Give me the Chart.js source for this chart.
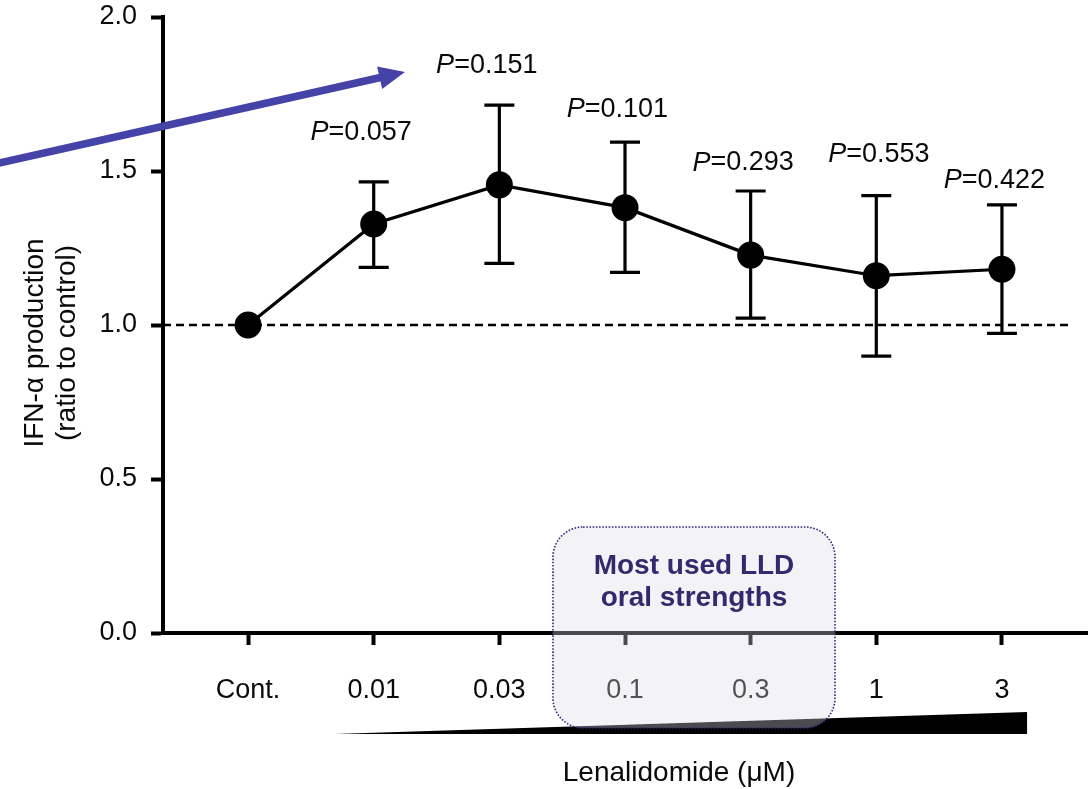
<!DOCTYPE html>
<html>
<head>
<meta charset="utf-8">
<script src="https://cdn.jsdelivr.net/npm/chart.js@4.4.1/dist/chart.umd.min.js"></script>
<style>
  html, body { margin: 0; padding: 0; background: #fff; }
  #wrap { width: 1088px; height: 789px; position: relative; }
</style>
</head>
<body>
<div id="wrap"><canvas id="c"></canvas></div>
<script>
// ---- data ----
const categories = ['Cont.', '0.01', '0.03', '0.1', '0.3', '1', '3'];
const means      = [1.00, 1.328, 1.455, 1.381, 1.227, 1.160, 1.181];
const errHigh    = [null, 1.465, 1.714, 1.594, 1.435, 1.420, 1.390];
const errLow     = [null, 1.187, 1.200, 1.171, 1.022, 0.899, 0.973];
const pValues    = [null, '0.057', '0.151', '0.101', '0.293', '0.553', '0.422'];
const yTicks     = [0, 0.5, 1.0, 1.5, 2.0];
const refValue   = 1.0;

// ---- annotation placement (config, in data units) ----
const pLabelY    = [null, 1.624, 1.844, 1.700, 1.526, 1.555, 1.469];
const pLabelDx   = [0, -0.10, -0.10, -0.06, -0.06, 0.02, -0.06];
const X_MIN = -0.677, X_MAX = 6.677, REF_END = 6.53;

const FONT = "'Liberation Sans', Arial, Helvetica, sans-serif";
const TXT = '#0a0a0a';

function zeroPad(scale) {
  scale.paddingTop = 0; scale.paddingBottom = 0;
  scale.paddingLeft = 0; scale.paddingRight = 0;
}

const annot = {
  id: 'annot',
  beforeDatasetsDraw(chart) {
    const {ctx, scales: {x, y}} = chart;
    ctx.save();
    ctx.strokeStyle = '#000';
    ctx.lineWidth = 3.2;
    for (let i = 0; i < categories.length; i++) {
      if (errHigh[i] == null) continue;
      const px = x.getPixelForValue(i);
      const yt = y.getPixelForValue(errHigh[i]);
      const yb = y.getPixelForValue(errLow[i]);
      ctx.beginPath();
      ctx.moveTo(px, yt); ctx.lineTo(px, yb);
      ctx.moveTo(px - 15, yt); ctx.lineTo(px + 15, yt);
      ctx.moveTo(px - 15, yb); ctx.lineTo(px + 15, yb);
      ctx.stroke();
    }
    ctx.restore();
  },
  afterDraw(chart) {
    const {ctx, scales: {x, y}} = chart;
    ctx.save();
    // P-value labels
    ctx.fillStyle = TXT;
    ctx.textBaseline = 'middle';
    for (let i = 0; i < categories.length; i++) {
      if (!pValues[i]) continue;
      const cx = x.getPixelForValue(i + pLabelDx[i]);
      const cy = y.getPixelForValue(pLabelY[i]);
      ctx.font = "italic 27px " + FONT;
      const wP = ctx.measureText('P').width;
      ctx.font = "27px " + FONT;
      const rest = '=' + pValues[i];
      const wR = ctx.measureText(rest).width;
      const x0 = cx - (wP + wR) / 2;
      ctx.textAlign = 'left';
      ctx.font = "italic 27px " + FONT;
      ctx.fillText('P', x0, cy);
      ctx.font = "27px " + FONT;
      ctx.fillText(rest, x0 + wP, cy);
    }
    // Y axis title
    ctx.save();
    ctx.translate(0, 343);
    ctx.rotate(-Math.PI / 2);
    ctx.font = "28px " + FONT;
    ctx.fillStyle = TXT;
    ctx.textAlign = 'center';
    ctx.textBaseline = 'alphabetic';
    ctx.fillText('IFN-\u03b1 production', 0, 42.5);
    ctx.fillText('(ratio to control)', 0, 75);
    ctx.restore();
    // X axis title
    ctx.font = "28px " + FONT;
    ctx.fillStyle = TXT;
    ctx.textAlign = 'center';
    ctx.textBaseline = 'middle';
    ctx.fillText('Lenalidomide (\u03bcM)', 679, 773);
    // Wedge (increasing concentration)
    const wx0 = x.getPixelForValue(0.69), wx1 = x.getPixelForValue(6.2);
    ctx.fillStyle = '#000';
    ctx.beginPath();
    ctx.moveTo(wx0, 734);
    ctx.lineTo(wx1, 712);
    ctx.lineTo(wx1, 734);
    ctx.closePath();
    ctx.fill();
    // Highlight box
    const bx = 553, by = 527, bw = 282, bh = 201, r = 30;
    ctx.beginPath();
    ctx.roundRect(bx, by, bw, bh, r);
    ctx.fillStyle = 'rgba(220,220,232,0.34)';
    ctx.fill();
    ctx.setLineDash([1.6, 1.6]);
    ctx.lineWidth = 1.6;
    ctx.strokeStyle = '#2d2a7c';
    ctx.stroke();
    ctx.setLineDash([]);
    ctx.font = "bold 28px " + FONT;
    ctx.fillStyle = '#35296d';
    ctx.textAlign = 'center';
    ctx.textBaseline = 'middle';
    ctx.fillText('Most used LLD', bx + bw / 2, 566);
    ctx.fillText('oral strengths', bx + bw / 2, 598);
    // Arrow
    const ax0 = -5, ay0 = 164, ax1 = 405, ay1 = 72;
    const ang = Math.atan2(ay1 - ay0, ax1 - ax0);
    const hl = 26, hw = 11.5;
    const bxp = ax1 - hl * Math.cos(ang), byp = ay1 - hl * Math.sin(ang);
    ctx.strokeStyle = '#4542a8';
    ctx.fillStyle = '#4542a8';
    ctx.lineWidth = 7.5;
    ctx.beginPath();
    ctx.moveTo(ax0, ay0);
    ctx.lineTo(bxp + 2 * Math.cos(ang), byp + 2 * Math.sin(ang));
    ctx.stroke();
    ctx.beginPath();
    ctx.moveTo(ax1, ay1);
    ctx.lineTo(bxp + hw * Math.sin(ang), byp - hw * Math.cos(ang));
    ctx.lineTo(bxp - hw * Math.sin(ang), byp + hw * Math.cos(ang));
    ctx.closePath();
    ctx.fill();
    ctx.restore();
  }
};

new Chart(document.getElementById('c'), {
  type: 'line',
  data: {
    datasets: [
      {
        data: means.map((v, i) => ({x: i, y: v})),
        borderColor: '#000',
        borderWidth: 3.2,
        pointRadius: 13.5,
        pointHoverRadius: 13.5,
        pointBackgroundColor: '#000',
        pointBorderWidth: 0,
        tension: 0,
        clip: false,
        order: 1
      },
      {
        data: [{x: X_MIN, y: refValue}, {x: REF_END, y: refValue}],
        borderColor: '#000',
        borderWidth: 2.5,
        borderDash: [8, 5],
        pointRadius: 0,
        order: 2
      }
    ]
  },
  options: {
    responsive: true,
    maintainAspectRatio: false,
    animation: false,
    events: [],
    layout: { autoPadding: false, padding: { left: 0, right: 1, top: 17, bottom: 0 } },
    plugins: { legend: { display: false }, tooltip: { enabled: false } },
    scales: {
      x: {
        type: 'linear',
        min: X_MIN, max: X_MAX,
        afterBuildTicks(scale) { scale.ticks = categories.map((c, i) => ({value: i})); },
        afterFit(scale) { scale.height = 156; zeroPad(scale); },
        ticks: {
          autoSkip: false, maxRotation: 0, padding: 29,
          color: TXT,
          font: { family: FONT, size: 27 },
          callback: (v) => categories[v] ?? ''
        },
        grid: { drawOnChartArea: false, drawTicks: true, tickLength: 12, tickWidth: 4, tickColor: '#000' },
        border: { display: true, width: 4, color: '#000' }
      },
      y: {
        min: 0, max: 2,
        afterBuildTicks(scale) { scale.ticks = yTicks.map(v => ({value: v})); },
        afterFit(scale) { scale.width = 163; zeroPad(scale); },
        ticks: {
          padding: 14,
          color: TXT,
          font: { family: FONT, size: 27 },
          callback: (v) => v.toFixed(1)
        },
        grid: { drawOnChartArea: false, drawTicks: true, tickLength: 12, tickWidth: 4, tickColor: '#000' },
        border: { display: true, width: 4, color: '#000' }
      }
    }
  },
  plugins: [annot]
});
</script>
</body>
</html>
